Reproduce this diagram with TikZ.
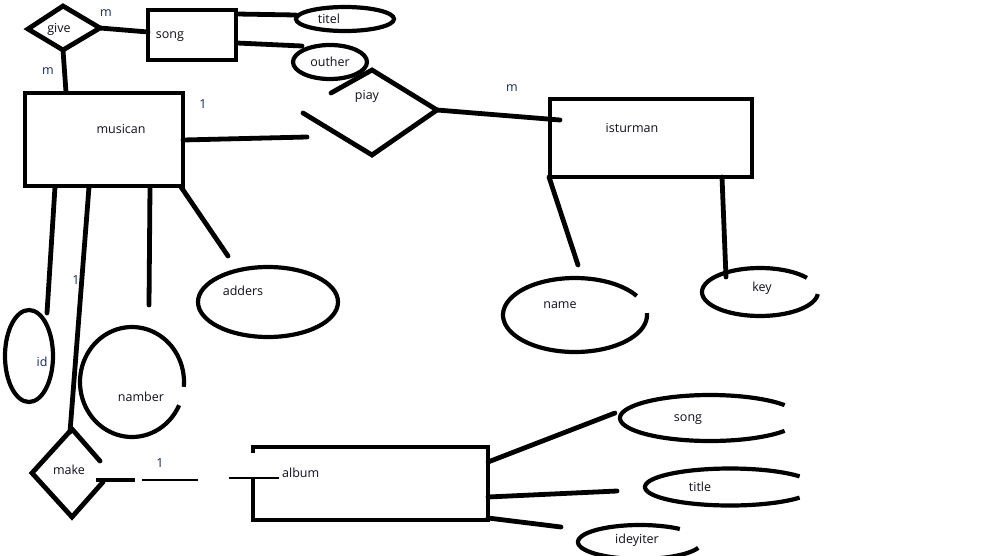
\documentclass[tikz,border=0pt]{standalone}
\usepackage{fontspec}
\setmainfont{Open Sans}
\definecolor{cardblue}{RGB}{20,40,90}
\definecolor{labelc}{RGB}{15,15,25}
\begin{document}
\begin{tikzpicture}[x=1pt,y=-1pt,
  ln/.style={line width=4.8pt, line cap=round, line join=miter},
  eln/.style={line width=4.2pt, line cap=butt},
  thin/.style={line width=1.2pt},
  lbl/.style={font=\fontsize{12.5}{15}\selectfont, text=labelc, inner sep=0pt},
  card/.style={font=\fontsize{12.5}{15}\selectfont, text=cardblue, inner sep=0pt}]
\useasboundingbox (0,0) rectangle (999,555);
\fill[white] (0,0) rectangle (999,555);

% ---------- entities ----------
\draw[ln] (25,93) rectangle (183,186);
\draw[ln] (148,10) rectangle (236,60);
\draw[ln] (550,99) rectangle (752,177);
\draw[ln, line cap=butt] (253,453) -- (253,447) -- (488,447) -- (488,520) -- (253,520) -- (253,478);

% ---------- relationships ----------
\draw[ln] (28,29) -- (63,6) -- (100,28) -- (63,50) -- cycle;
\draw[ln] (331,93) -- (372,70) -- (437,110) -- (372,155) -- (303,113);
\draw[ln] (100,461) -- (72,429) -- (32,473) -- (72,517) -- (103,482);

% ---------- attributes ----------
\draw[eln] (345,19) ellipse [x radius=49pt, y radius=12pt];
\draw[eln] (330,62) ellipse [x radius=37pt, y radius=17pt];
\draw[eln] (268,302) ellipse [x radius=70pt, y radius=35pt];
\draw[eln] (29,356) ellipse [x radius=24pt, y radius=46pt];
\draw[eln] plot[domain=25:365, samples=80, smooth] ({132+52*cos(\x)},{382+55*sin(\x)});
\draw[eln] plot[domain=-3:329, samples=80, smooth] ({575+72*cos(\x)},{315+37*sin(\x)});
\draw[eln] plot[domain=5:324, samples=80, smooth] ({760+58*cos(\x)},{292+24*sin(\x)});
\draw[eln] plot[domain=34:326, samples=80, smooth] ({710+90*cos(\x)},{418+23*sin(\x)});
\draw[eln] plot[domain=35:325, samples=80, smooth] ({730+85*cos(\x)},{487+18.5*sin(\x)});
\draw[eln] plot[domain=20:310, samples=80, smooth] ({640+62*cos(\x)},{542+17*sin(\x)});

% ---------- connector end points ----------
\coordinate (giveR) at (100,28);   \coordinate (songL) at (148,32);
\coordinate (giveB) at (63,50);    \coordinate (musT) at (66,92);
\coordinate (songR1) at (237,14);  \coordinate (titelL) at (296,15);
\coordinate (songR2) at (237,43);  \coordinate (outherL) at (302,46);
\coordinate (musR) at (183,140);   \coordinate (piayL) at (307,137);
\coordinate (piayR) at (437,110);  \coordinate (istL) at (560,120);
\coordinate (musB1) at (55,187);   \coordinate (idT) at (47,313);
\coordinate (musB2) at (89,187);   \coordinate (makeT) at (70,432);
\coordinate (musB3) at (150,187);  \coordinate (nambT) at (149,305);
\coordinate (musB4) at (181,187);  \coordinate (addT) at (228,256);
\coordinate (istB1) at (549,177);  \coordinate (nameT) at (578,265);
\coordinate (istB2) at (722,177);  \coordinate (keyT) at (726,277);
\coordinate (albR1) at (488,462);  \coordinate (songE) at (615,413);
\coordinate (albR2) at (488,497);  \coordinate (titleE) at (617,491);
\coordinate (albR3) at (488,518);  \coordinate (ideE) at (561,527);
\coordinate (makeR) at (96,480);   \coordinate (m1) at (135,480);
\coordinate (m2) at (142,480);     \coordinate (m3) at (198,480);
\coordinate (m4) at (229,478);     \coordinate (albL) at (279,478);

% ---------- connectors ----------
\draw[ln] (giveR) -- (songL);
\draw[ln] (giveB) -- (musT);
\draw[ln] (songR1) -- (titelL);
\draw[ln] (songR2) -- (outherL);
\draw[ln] (musR) -- (piayL);
\draw[ln] (piayR) -- (istL);
\draw[ln] (musB1) -- (idT);
\draw[ln] (musB2) -- (makeT);
\draw[ln] (musB3) -- (nambT);
\draw[ln] (musB4) -- (addT);
\draw[ln] (istB1) -- (nameT);
\draw[ln] (istB2) -- (keyT);
\draw[ln] (albR1) -- (songE);
\draw[ln] (albR2) -- (titleE);
\draw[ln] (albR3) -- (ideE);
\draw[line width=4.6pt] (makeR) -- (m1);
\draw[thin] (m2) -- (m3);
\draw[thin] (m4) -- (albL);

% ---------- labels ----------
\node[lbl] (tgive) at (59,29) {give};
\node[lbl] (tsong) at (170,37) {song};
\node[lbl] (ttitel) at (329,19) {titel};
\node[lbl] (touther) at (330,62) {outher};
\node[lbl] (tpiay) at (367,96) {piay};
\node[lbl] (tmus) at (121,129) {musican};
\node[lbl] (tist) at (632,128) {isturman};
\node[lbl] (tadd) at (243,291) {adders};
\node[lbl] (tname) at (560,305) {name};
\node[lbl] (tkey) at (762,288) {key};
\node[card] (tid) at (42,362) {id};
\node[lbl] (tnamb) at (141,397) {namber};
\node[lbl] (tmake) at (69,470) {make};
\node[lbl, anchor=west] (talb) at (282,473) {album};
\node[lbl] (tsong2) at (688,420) {song};
\node[lbl] (ttitle) at (700,487) {title};
\node[lbl] (tide) at (637,540) {ideyiter};

\node[card] (c1) at (106,13) {m};
\node[card] (c2) at (48,71) {m};
\node[card] (c3) at (203,104) {1};
\node[card] (c4) at (512,88) {m};
\node[card] (c5) at (76,280) {1};
\node[card] (c6) at (160,463) {1};
\end{tikzpicture}
\end{document}
